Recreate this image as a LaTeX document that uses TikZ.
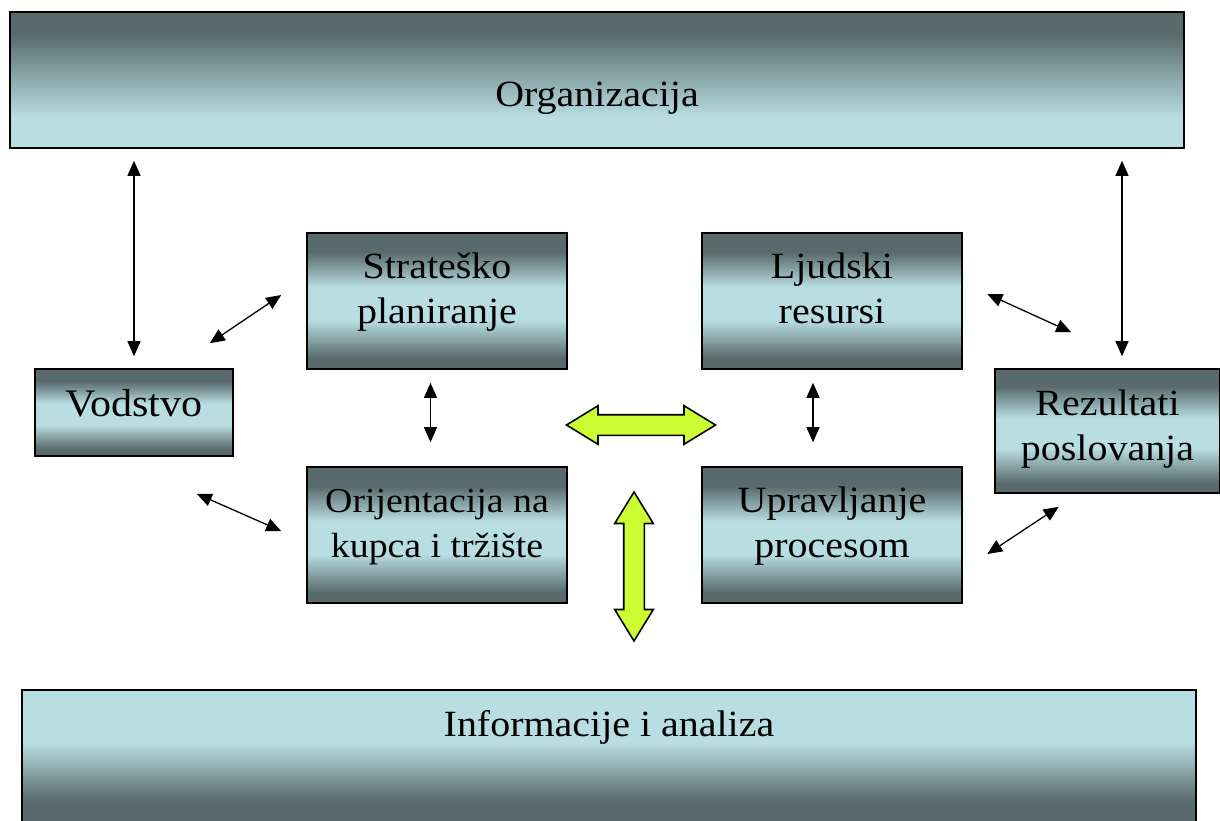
\documentclass[tikz,border=0pt]{standalone}
\usepackage{fontspec}
\setmainfont{Liberation Serif}[FakeStretch=1.08]
\usetikzlibrary{positioning}
\usetikzlibrary{calc}
\usetikzlibrary{shapes.arrows,arrows.meta}

\definecolor{slate}{RGB}{88,106,108}
\definecolor{pale}{RGB}{185,222,226}
\definecolor{arrowgreen}{RGB}{204,255,51}

% dark - light - dark
\pgfdeclareverticalshading{boxshade}{100bp}{color(0bp)=(slate); color(25bp)=(slate); color(29bp)=(slate); color(43bp)=(pale); color(55bp)=(pale); color(68bp)=(slate); color(100bp)=(slate)}
% dark on top
\pgfdeclareverticalshading{topshade}{100bp}{color(0bp)=(pale); color(25bp)=(pale); color(36bp)=(pale); color(67bp)=(slate); color(100bp)=(slate)}
% light on top
\pgfdeclareverticalshading{bottomshade}{100bp}{color(0bp)=(slate); color(34bp)=(slate); color(56bp)=(pale); color(100bp)=(pale)}

\tikzset{
    box/.style={
           rectangle,
           draw=black, line width=0.8pt,
           shading=boxshade,
           minimum width=130pt,
           minimum height=68pt,
           inner sep=0pt,
           align=center,
           font=\fontsize{18.5pt}{22.5pt}\selectfont,
           text height=22.5pt,
           text depth=0pt,
           },
    wide/.style={
           box,
           minimum width=587pt,
           },
    fatarrow/.style={
           double arrow,
           draw=black, line width=0.8pt,
           fill=arrowgreen,
           inner sep=0pt, inner ysep=4.75pt,
           minimum width=0pt,
           minimum height=74.5pt,
           double arrow head extend=4.5pt,
           double arrow tip angle=63,
           },
}

\begin{document}
\begin{tikzpicture}[x=0.5pt, y=-0.5pt, >={Triangle[length=7.5pt,width=6.5pt]}, on grid]
   \useasboundingbox (0,0) rectangle (1220,820);
   \clip (0,0) rectangle (1220,820);

   \node[wide, shading=topshade, text height=26pt] (org) at (597,80) {Organizacija};
   \node[box] (strat) at (437,301) {Strateško\\planiranje};
   \node[box, font=\fontsize{17.5pt}{22.5pt}\selectfont] (orij) [below=117pt of strat] {Orijentacija na\\kupca i tržište};
   \node[box] (ljud) [right=197.5pt of strat] {Ljudski\\resursi};
   \node[box] (upr) [below=117pt of ljud] {Upravljanje\\procesom};
   \node[box, minimum width=99pt, minimum height=43.5pt, text height=3.5pt, font=\fontsize{19.5pt}{22.5pt}\selectfont] (vod) at (134,412.5) {Vodstvo};
   \node[box, minimum width=112.5pt, minimum height=62pt, text height=29pt] (rez) at (1107.5,431) {Rezultati\\poslovanja};
   \node[wide, shading=bottomshade, text height=0pt, text depth=22pt] (info) at (609,758) {Informacije i analiza};

   \node[fatarrow] (harrow) at (641,425) {};
   \node[fatarrow, rotate=90] (varrow) at (634,566.5) {};

   \path[<->, line width=0.65pt]
    ($(vod.north)+(0,-12)$) edge ($(org.south)+(-463,12)$)
    ($(rez.north)+(14.5,-12)$) edge ($(org.south)+(525,12)$)
    ($(vod.north east)+(-24,-25)$) edge ($(strat.west)+(-25,-6)$)
    ($(vod.south east)+(-37,37)$) edge ($(orij.west)+(-25,-4)$)
    ($(strat.south)+(-6.5,13)$) edge ($(orij.north)+(-6.5,-24)$)
    ($(ljud.south)+(-19,13)$) edge ($(upr.north)+(-19,-24)$)
    ($(ljud.east)+(24.5,-7)$) edge ($(rez.north west)+(77,-36)$)
    ($(upr.east)+(24.5,19)$) edge ($(rez.south west)+(64.5,13)$)
       ;
\end{tikzpicture}
\end{document}
